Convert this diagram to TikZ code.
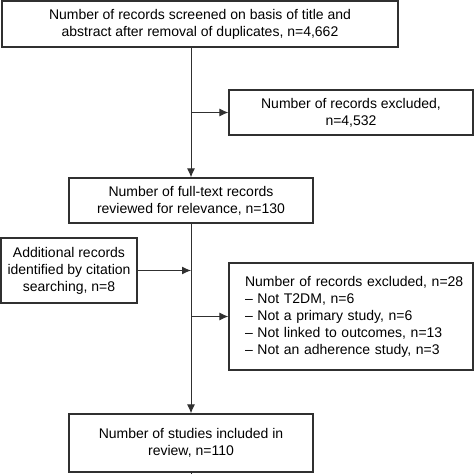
\documentclass[tikz,border=0pt]{standalone}
\usepackage{fontspec}
\setmainfont{Liberation Sans}
\usetikzlibrary{arrows.meta}
\definecolor{edge}{HTML}{303030}
\hbadness=10000 \hfuzz=20pt
\begin{document}
\begin{tikzpicture}[x=1pt,y=-1pt,
  box/.style={draw=edge, line width=1.2pt, inner sep=0pt, align=center,
    font=\fontsize{14}{17}\selectfont, text=black},
  arr/.style={draw=edge, line width=1pt, -{Latex[length=9pt,width=8pt]}},
  ln/.style={draw=edge, line width=1pt}]
\useasboundingbox (0,0) rectangle (474,474);
\node[box, minimum width=396pt, minimum height=46pt] (top) at (200,24)
  {Number of records screened on basis of title and\\abstract after removal of duplicates, n=4,662};
\node[box, minimum width=244pt, minimum height=45pt] (ex1) at (351,112.5)
  {Number of records excluded,\\n=4,532};
\node[box, minimum width=244pt, minimum height=45pt] (full) at (191,200.5)
  {Number of full-text records\\reviewed for relevance, n=130};
\node[box, minimum width=136pt, minimum height=65pt] (add) at (69,270.5)
  {Additional records\\identified by citation\\searching, n=8};
\node[box, minimum width=244pt, minimum height=107pt, align=left,
  text width=212pt, inner xsep=16pt] (ex2) at (351,316.5)
  {\mbox{Number of records excluded, n=28}\\
   \mbox{– Not T2DM, n=6}\\
   \mbox{– Not a primary study, n=6}\\
   \mbox{– Not linked to outcomes, n=13}\\
   \mbox{– Not an adherence study, n=3}};
\node[box, minimum width=244pt, minimum height=58pt] (final) at (191,443)
  {Number of studies included in\\review, n=110};
\coordinate (start) at (191,0);
\coordinate (end) at (191,474);
\draw[ln] (start) -- (top.north -| start);
\draw[arr] (top.south -| full.north) -- (full.north);
\draw[arr] (full.north |- ex1.west) -- (ex1.west);
\draw[arr] (full.south) -- (final.north);
\draw[arr] (add.east) -- (add.east -| full.south);
\draw[arr] (full.south |- ex2.west) -- (ex2.west);
\draw[ln] (final.south) -- (end);
\end{tikzpicture}
\end{document}
